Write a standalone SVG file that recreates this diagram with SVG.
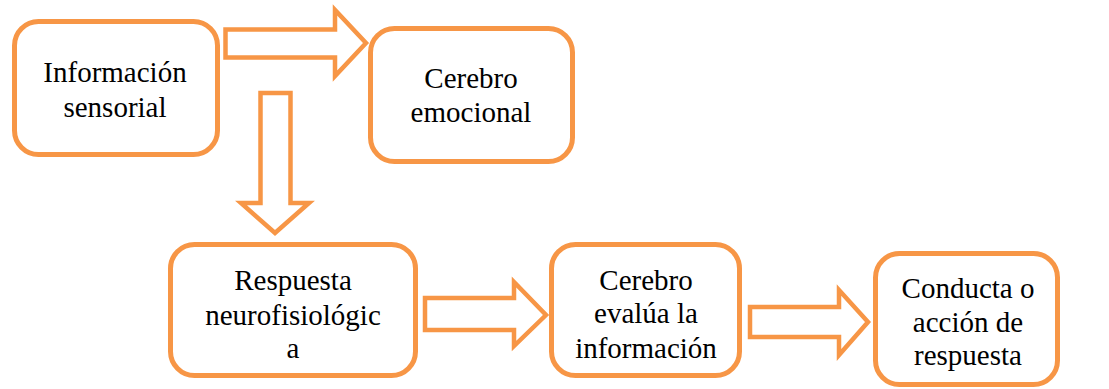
<svg xmlns="http://www.w3.org/2000/svg" width="1109" height="389" viewBox="0 0 1109 389">
<style>
.box{fill:#fff;stroke:#F79646;stroke-width:5}
.arr{fill:#fff;stroke:#F79646;stroke-width:4.5;stroke-linejoin:miter}
.t{font-family:'Liberation Serif','Times New Roman',serif;font-size:29px;fill:#000;text-anchor:middle}
</style>
<rect width="1109" height="389" fill="#fff"/>
<g id="connectors">
<polygon class="arr" points="225.5,29.5 335,29.5 335,10 366,43 335,76 335,57.5 225.5,57.5"/>
<polygon class="arr" points="260.5,93 290.5,93 290.5,203 309,203 275,233 241,203 260.5,203"/>
<polygon class="arr" points="425,298 514,298 514,282 546,315 514,346 514,330 425,330"/>
<polygon class="arr" points="750,307 839,307 839,290 868,322 839,355 839,337 750,337"/>
</g>
<g id="n1"><rect class="box" x="14.5" y="21.5" width="203" height="133" rx="24"/><text class="t" x="115" y="82">Información</text><text class="t" x="115" y="117">sensorial</text></g>
<g id="n2"><rect class="box" x="370.5" y="28.5" width="202" height="133" rx="24"/><text class="t" x="471" y="88">Cerebro</text><text class="t" x="471" y="122">emocional</text></g>
<g id="n3"><rect class="box" x="170.5" y="244.5" width="245" height="131" rx="24"/><text class="t" x="293" y="290">Respuesta</text><text class="t" x="293" y="325">neurofisiológic</text><text class="t" x="293" y="358">a</text></g>
<g id="n4"><rect class="box" x="551.5" y="244.5" width="188" height="131" rx="24"/><text class="t" x="646" y="290">Cerebro</text><text class="t" x="646" y="323">evalúa la</text><text class="t" x="646" y="358">información</text></g>
<g id="n5"><rect class="box" x="875.5" y="253.5" width="182" height="131" rx="24"/><text class="t" x="968" y="298">Conducta o</text><text class="t" x="968" y="332">acción de</text><text class="t" x="968" y="365">respuesta</text></g>
</svg>
